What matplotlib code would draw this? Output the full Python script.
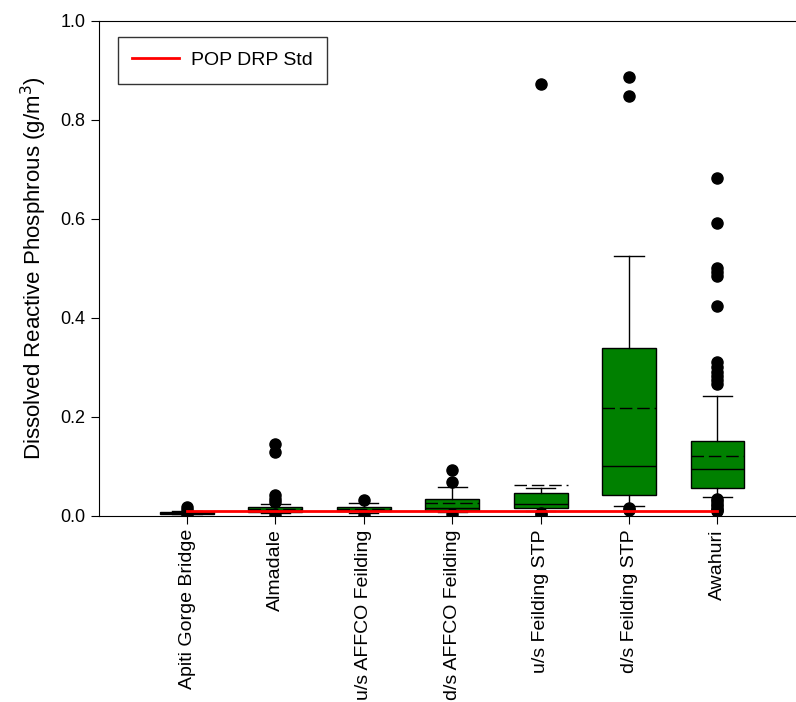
import numpy as np
import matplotlib
matplotlib.use('Agg')
from matplotlib import pyplot as plt

plt.rcParams['font.family'] = ['Liberation Sans', 'DejaVu Sans']

sites = ['Apiti Gorge Bridge', 'Almadale', 'u/s AFFCO Feilding', 'd/s AFFCO Feilding',
         'u/s Feilding STP', 'd/s Feilding STP', 'Awahuri']
q1 = [0.005, 0.008, 0.010, 0.012, 0.0155, 0.042, 0.057]
med = [0.006, 0.012, 0.013, 0.016, 0.024, 0.100, 0.095]
q3 = [0.008, 0.019, 0.019, 0.034, 0.047, 0.339, 0.151]
mean = [0.007, 0.015, 0.014, 0.027, 0.063, 0.217, 0.121]
whislo = [0.004, 0.006, 0.006, 0.008, 0.010, 0.021, 0.038]
whishi = [0.010, 0.024, 0.026, 0.058, 0.057, 0.524, 0.242]
fliers = [
    [0.018, 0.013, 0.003],
    [0.146, 0.130, 0.042, 0.035, 0.028, 0.003],
    [0.032, 0.002],
    [0.093, 0.068, 0.004],
    [0.871, 0.007, 0.003],
    [0.885, 0.848, 0.016, 0.012],
    [0.682, 0.591, 0.500, 0.492, 0.484, 0.423, 0.310, 0.300, 0.290, 0.282,
     0.274, 0.266, 0.035, 0.030, 0.025, 0.020, 0.015, 0.012, 0.010],
]
std_value = 0.01

def main():
    stats = []
    for i in range(len(sites)):
        stats.append(dict(label=sites[i], q1=q1[i], med=med[i], q3=q3[i], mean=mean[i],
                          whislo=whislo[i], whishi=whishi[i], fliers=fliers[i]))
    pos = np.arange(1, len(sites) + 1)

    fig = plt.figure(figsize=(7.96, 7.02), dpi=100)
    ax = fig.add_axes([98.6 / 796, 186 / 702, 707.3 / 796, 495.5 / 702])
    ax.bxp(stats, positions=pos, widths=0.61, capwidths=0.33, patch_artist=True,
           showmeans=True, meanline=True,
           boxprops=dict(facecolor='#008000', edgecolor='black', linewidth=1),
           medianprops=dict(color='black', linewidth=1),
           meanprops=dict(color='black', linewidth=1, linestyle=(0, (9, 3.5))),
           whiskerprops=dict(color='black', linewidth=1),
           capprops=dict(color='black', linewidth=1),
           flierprops=dict(marker='o', markerfacecolor='black', markeredgecolor='black',
                           markersize=8))
    ax.plot(pos, [std_value] * len(pos), color='red', linewidth=2, zorder=10,
            label='POP DRP Std')

    ax.set_xlim(0, 8)
    ax.set_ylim(0, 1.0)
    ax.set_yticks(np.arange(0, 1.01, 0.2))
    ax.set_yticklabels(['%.1f' % v for v in np.arange(0, 1.01, 0.2)], fontsize=13)
    ax.set_xticks(pos)
    ax.set_xticklabels(sites, rotation=90, fontsize=14)
    ax.tick_params(direction='out', length=6)
    ax.set_ylabel('Dissolved Reactive Phosphrous (g/m$^3$)', fontsize=16, labelpad=8)

    leg = ax.legend(loc='upper left', bbox_to_anchor=(0.027, 0.967), borderaxespad=0,
                    fontsize=14, frameon=True, fancybox=False, borderpad=0.75,
                    handlelength=2.4, handletextpad=0.6)
    leg.get_frame().set_edgecolor('black')
    leg.get_frame().set_linewidth(1)

    fig.savefig('out.png', dpi=100)


if __name__ == "__main__":
    main()
